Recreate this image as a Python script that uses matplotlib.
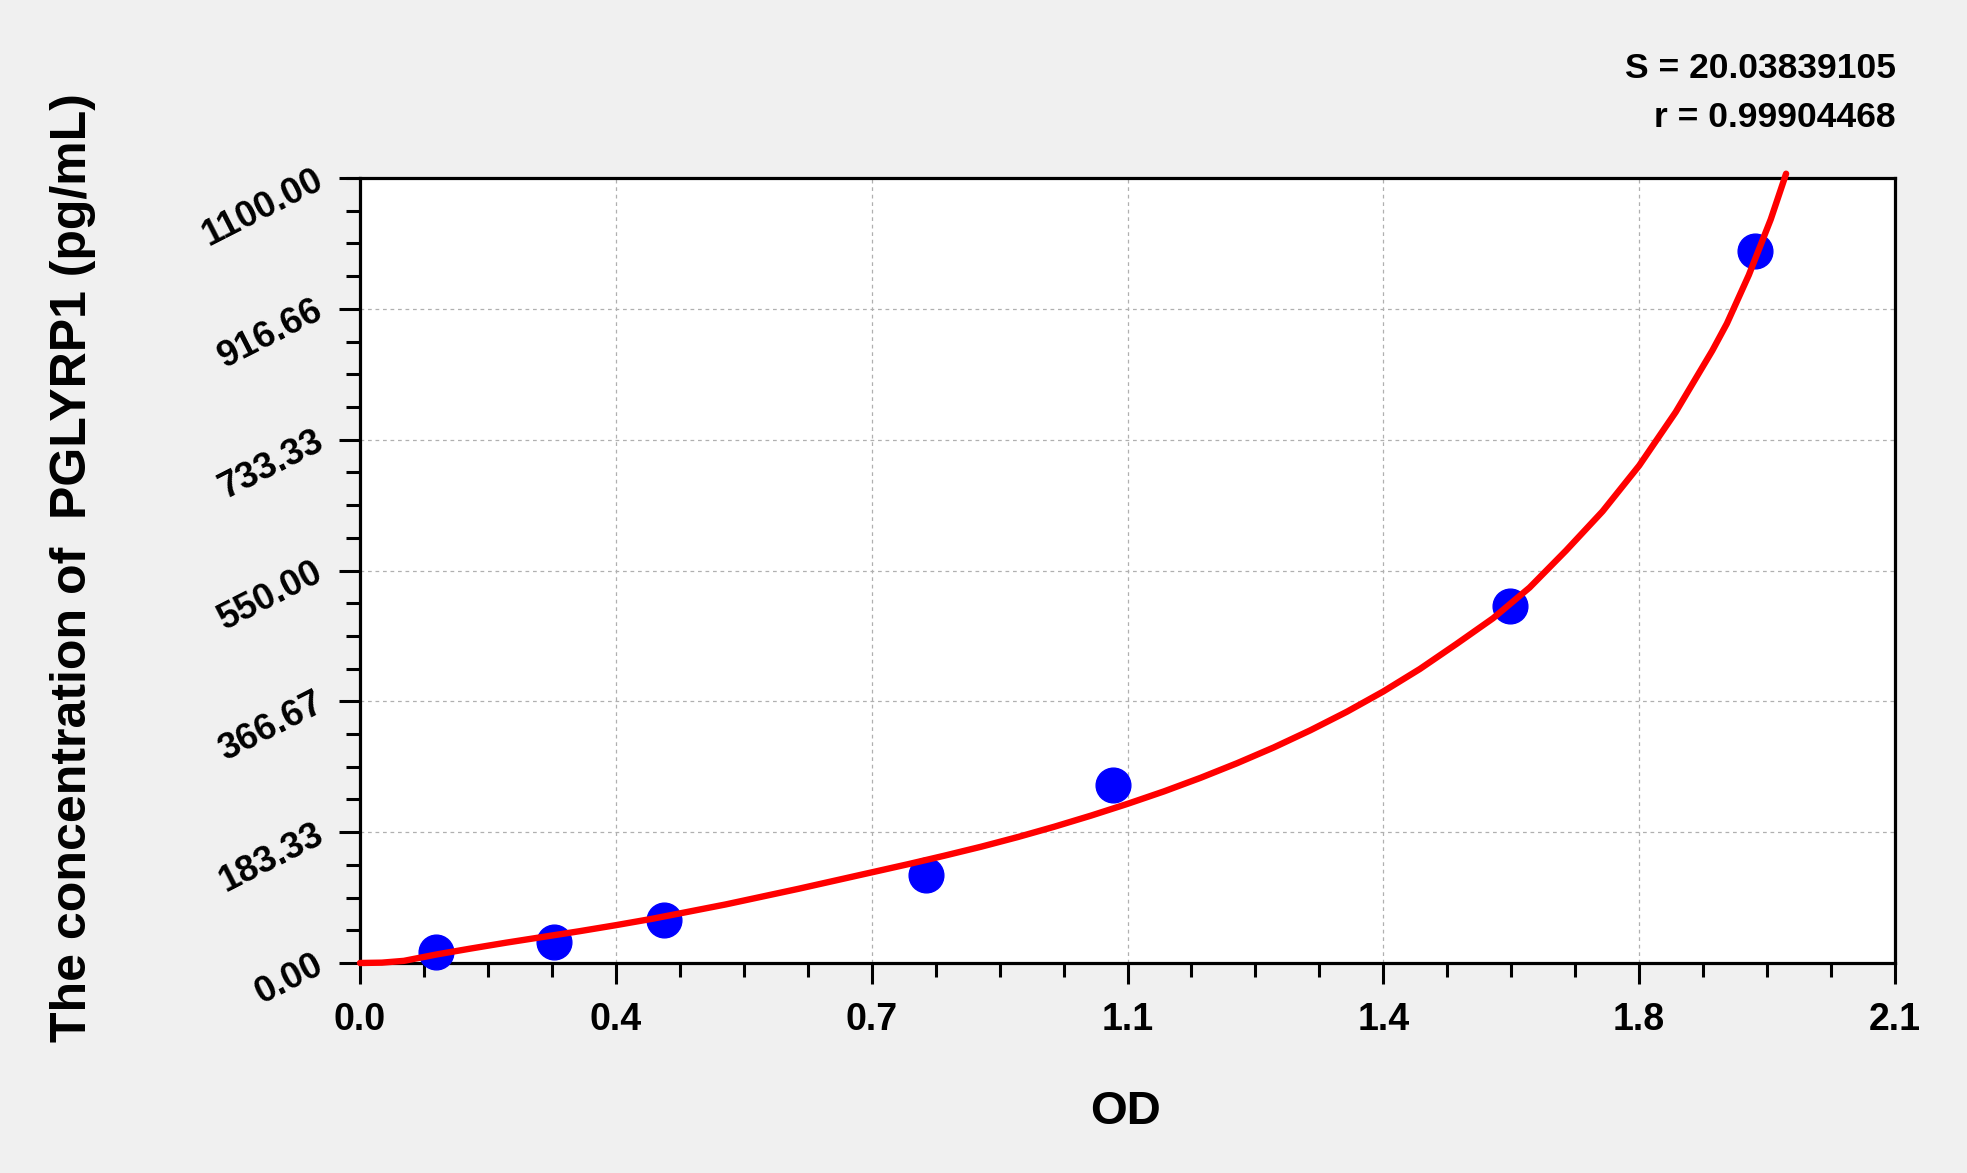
import matplotlib
matplotlib.use('Agg')
import matplotlib.pyplot as plt
from matplotlib.ticker import AutoMinorLocator, FixedLocator, FixedFormatter

#*************************************************************************#
# data
od_pts = [0.104, 0.265, 0.416, 0.774, 1.030, 1.573, 1.909]
conc_pts = [15.6, 29.0, 60.0, 124.0, 249.0, 500.0, 998.0]

# fitted curve, points
curve_od = [0.00, 0.03, 0.06, 0.105, 0.15, 0.20, 0.25, 0.30, 0.35, 0.40,
            0.45, 0.50, 0.55, 0.60, 0.65, 0.70, 0.75, 0.80, 0.85, 0.90,
            0.95, 1.00, 1.05, 1.10, 1.15, 1.20, 1.25, 1.30, 1.35, 1.40,
            1.45, 1.50, 1.55, 1.60, 1.65, 1.70, 1.75, 1.80, 1.85, 1.87,
            1.90, 1.93, 1.951]
curve_conc = [0.0, 0.5, 3.0, 12.0, 20.0, 28.5, 36.5, 44.5, 53.0, 62.0,
              72.0, 82.0, 93.0, 104.0, 115.5, 127.0, 138.5, 150.5, 163.0, 176.5,
              191.0, 206.5, 223.0, 240.5, 259.5, 280.0, 302.0, 326.0, 352.0, 380.5,
              412.0, 447.0, 483.0, 526.0, 578.0, 633.0, 697.0, 772.0, 858.0, 896.0,
              964.0, 1042.0, 1106.0]

x_ticks = [0.0, 0.35, 0.70, 1.05, 1.40, 1.75, 2.10]
x_ticklabels = ['0.0', '0.4', '0.7', '1.1', '1.4', '1.8', '2.1']
y_ticks = [0.0, 183.33, 366.67, 550.0, 733.33, 916.66, 1100.0]
y_ticklabels = ['0.00', '183.33', '366.67', '550.00', '733.33', '916.66', '1100.00']

x_title = 'OD'
y_title = 'The concentration of  PGLYRP1 (pg/mL)'
s_text = 'S = 20.03839105'
r_text = 'r = 0.99904468'

#*************************************************************************#
plt.rcParams['font.family'] = ['Liberation Sans', 'DejaVu Sans']
plt.rcParams['font.weight'] = 'bold'

W, H = 1967, 1173
fig = plt.figure(figsize=(W / 100, H / 100), dpi=100)
fig.patch.set_facecolor('#f0f0f0')

# axes box in pixels: left 360, right 1895, top 178, bottom 963
ax = fig.add_axes([360 / W, 1 - 963 / H, (1895 - 360) / W, (963 - 178) / H])
ax.set_facecolor('white')

ax.set_xlim(0, 2.1)
ax.set_ylim(0, 1100)

ax.plot(od_pts, conc_pts, 'o', color='#0000ff', markersize=25, zorder=3, clip_on=False)
ax.plot(curve_od, curve_conc, '-', color='#ff0000', linewidth=4.6, zorder=4,
        clip_on=False, solid_capstyle='round', solid_joinstyle='round')

ax.xaxis.set_major_locator(FixedLocator(x_ticks))
ax.xaxis.set_major_formatter(FixedFormatter(x_ticklabels))
ax.yaxis.set_major_locator(FixedLocator(y_ticks))
ax.yaxis.set_major_formatter(FixedFormatter(y_ticklabels))
ax.xaxis.set_minor_locator(AutoMinorLocator(4))
ax.yaxis.set_minor_locator(AutoMinorLocator(4))

ax.tick_params(which='major', direction='out', length=15, width=2.2, color='black')
ax.tick_params(which='minor', direction='out', length=10, width=2.2, color='black')
ax.tick_params(axis='x', which='major', pad=13, labelsize=27)
ax.tick_params(axis='y', which='major', pad=13, labelsize=26.5)

for lbl in ax.get_yticklabels():
    lbl.set_rotation(27)
    lbl.set_rotation_mode('anchor')
    lbl.set_ha('right')
    lbl.set_va('center')
    lbl.set_fontweight('bold')
for lbl in ax.get_xticklabels():
    lbl.set_fontweight('bold')

ax.grid(True, which='major', color='#b0b0b0', linestyle=(0, (3, 3)), linewidth=0.9)
ax.set_axisbelow(True)

for sp in ax.spines.values():
    sp.set_linewidth(2.3)
    sp.set_color('black')

fig.text(73 / W, 1 - 568 / H, y_title, rotation=90, ha='center', va='center',
         fontsize=36, fontweight='bold')
fig.text(1126 / W, 1 - 1112 / H, x_title, ha='center', va='center',
         fontsize=34, fontweight='bold')
fig.text(1896 / W, 1 - 78 / H, s_text, ha='right', va='baseline',
         fontsize=25.5, fontweight='bold')
fig.text(1896 / W, 1 - 127 / H, r_text, ha='right', va='baseline',
         fontsize=25.5, fontweight='bold')

fig.savefig('out.png', dpi=100, facecolor=fig.get_facecolor())
print("end")
